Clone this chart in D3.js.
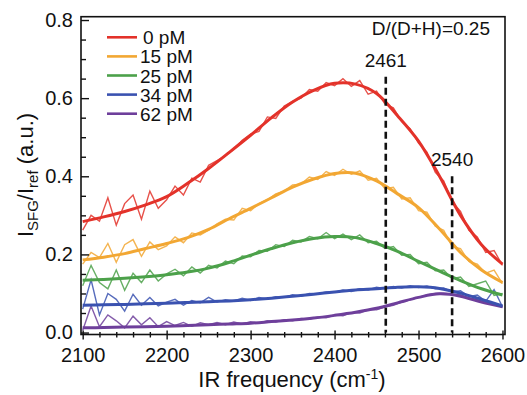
<!doctype html>
<head>
  <style>
    html, body {
      margin: 0;
      padding: 0;
      width: 527px;
      height: 395px;
      background: #fff;
    }
    svg text {
      font-family: 'Liberation Sans', Arial, sans-serif;
      fill: #111;
    }
    .noisy {
      fill: none;
      stroke-width: 1.4px;
      stroke-opacity: 0.85;
    }
    .fit {
      fill: none;
      stroke-width: 3px;
    }
  </style>
  <script src="https://d3js.org/d3.v7.min.js"></script>
</head>

<body>
  <svg id="chart" width="527" height="395"></svg>

  <script>
    // series labels and colours
    var seriesNames = ['0 pM', '15 pM', '25 pM', '34 pM', '62 pM'];
    var seriesColors = ['#e3322a', '#f2a733', '#4ca14a', '#3a52b0', '#6e3f9b'];

    // raw spectra, 2100..2600 cm-1 every 10
    var rawFreq = d3.range(2100, 2601, 10);
    var raw0 = [.262, .300, .285, .345, .275, .330, .352, .290, .362, .318, .340, .375, .352, .395, .385, .428, .440, .452, .470, .492,
                .508, .515, .552, .548, .580, .592, .600, .622, .618, .640, .632, .650, .630, .645, .610, .618, .585, .575, .540, .522,
                .485, .462, .410, .388, .335, .310, .262, .245, .205, .210, .172];
    var raw15 = [.175, .205, .192, .228, .180, .225, .238, .195, .232, .212, .222, .245, .230, .255, .250, .262, .278, .290, .288, .318,
                 .312, .330, .340, .355, .362, .378, .380, .398, .392, .412, .402, .418, .405, .414, .390, .395, .368, .372, .342, .345,
                 .312, .308, .272, .262, .220, .215, .182, .175, .152, .160, .125];
    var raw25 = [.120, .172, .128, .112, .160, .108, .152, .128, .160, .132, .150, .162, .145, .168, .152, .172, .165, .183, .176, .196,
                 .194, .210, .208, .225, .220, .236, .232, .246, .240, .256, .240, .252, .238, .250, .230, .234, .215, .220, .198, .200,
                 .176, .180, .158, .160, .138, .142, .118, .125, .132, .095, .100];
    var raw34 = [.060, .135, .045, .100, .085, .055, .098, .070, .090, .068, .078, .085, .070, .082, .076, .090, .078, .084, .081, .088,
                 .082, .090, .086, .092, .090, .097, .093, .100, .099, .104, .103, .109, .105, .112, .109, .116, .112, .118, .114, .120,
                 .115, .119, .112, .114, .104, .107, .092, .096, .080, .110, .066];
    var raw62 = [.005, .068, .015, .045, .030, .012, .042, .020, .038, .015, .028, .018, .026, .016, .025, .020, .026, .020, .027, .022,
                 .028, .024, .030, .027, .033, .030, .036, .034, .040, .038, .045, .043, .051, .050, .058, .058, .066, .070, .078, .084,
                 .090, .096, .100, .101, .098, .097, .088, .085, .076, .075, .064];

    // fitted curves, 2100..2600 every 25
    var fitFreq = d3.range(2100, 2601, 25);
    var fit0 = [.284, .296, .310, .327, .348, .382, .420, .462, .505, .550, .590, .620, .638, .636, .612, .555, .490, .400, .300, .225, .175];
    var fit15 = [.186, .193, .202, .215, .228, .243, .264, .292, .318, .345, .372, .393, .407, .408, .388, .355, .320, .265, .205, .160, .128];
    var fit25 = [.134, .136, .139, .143, .148, .155, .165, .180, .198, .215, .230, .241, .246, .243, .228, .208, .182, .157, .133, .112, .096];
    var fit34 = [.070, .071, .072, .0735, .075, .077, .079, .081, .084, .088, .093, .098, .104, .109, .112, .116, .117, .113, .101, .085, .068];
    var fit62 = [.012, .013, .014, .015, .016, .018, .020, .022, .024, .028, .032, .037, .044, .052, .062, .076, .090, .099, .093, .078, .066];

    var markers = [2461, 2540];
    var markerTop = [0.655, 0.40];

    var xMajor = [2100, 2200, 2300, 2400, 2500, 2600];
    var yMajor = [0.0, 0.2, 0.4, 0.6, 0.8];

    var rawSets = [raw0, raw15, raw25, raw34, raw62];
    var fitSets = [fit0, fit15, fit25, fit34, fit62];

    var svg = d3.select('#chart');
    var pL = 81, pR = 505, pT = 16.7, pB = 334.5;

    var x = d3.scaleLinear().domain([2098, 2603]).range([pL, pR]);
    var y = d3.scaleLinear().domain([-0.005, 0.8085]).range([pB, pT]);

    svg.append('clipPath').attr('id', 'clip')
      .append('rect')
        .attr('x', pL).attr('y', pT)
        .attr('width', pR - pL).attr('height', pB - pT);

    var plot = svg.append('g').attr('clip-path', 'url(#clip)');

    var rawLine = d3.line()
        .x(function(d, i) { return x(rawFreq[i]); })
        .y(function(d) { return y(d); });

    var fitLine = d3.line()
        .x(function(d, i) { return x(fitFreq[i]); })
        .y(function(d) { return y(d); })
        .curve(d3.curveCatmullRom);

    // draw from 62 pM up to 0 pM so red ends on top
    for (var k = seriesNames.length - 1; k >= 0; k--) {
      plot.append('path')
          .attr('class', 'noisy')
          .attr('stroke', seriesColors[k])
          .attr('d', rawLine(rawSets[k]));
    }
    for (var k = seriesNames.length - 1; k >= 0; k--) {
      plot.append('path')
          .attr('class', 'fit')
          .attr('stroke', seriesColors[k])
          .attr('d', fitLine(fitSets[k]));
    }

    // dashed markers
    svg.selectAll('line.marker')
        .data(markers)
      .enter().append('line')
        .attr('class', 'marker')
        .attr('x1', function(d) { return x(d); })
        .attr('x2', function(d) { return x(d); })
        .attr('y1', function(d, i) { return y(markerTop[i]); })
        .attr('y2', y(0.0))
        .attr('stroke', '#111')
        .attr('stroke-width', 2.6)
        .attr('stroke-dasharray', '7,4');

    svg.selectAll('text.marker')
        .data(markers)
      .enter().append('text')
        .attr('class', 'marker')
        .attr('x', function(d) { return x(d); })
        .attr('y', function(d, i) { return y(markerTop[i]) - 10; })
        .attr('text-anchor', 'middle')
        .style('font-size', '19px')
        .text(function(d) { return d; });

    svg.append('text')
        .attr('x', 490)
        .attr('y', 35)
        .attr('text-anchor', 'end')
        .style('font-size', '19px')
        .text('D/(D+H)=0.25');

    // axes
    var xAxis = svg.append('g')
        .attr('transform', 'translate(0,' + pB + ')')
        .call(d3.axisBottom(x).tickValues(xMajor).tickSize(5).tickPadding(8).tickFormat(d3.format('d')));
    xAxis.selectAll('line').attr('y1', -4);
    var xMinor = svg.append('g')
        .attr('transform', 'translate(0,' + pB + ')')
        .call(d3.axisBottom(x).tickValues(d3.range(2120, 2600, 20).filter(function(v) { return v % 100; }))
          .tickSize(3).tickFormat(''));
    xMinor.selectAll('line').attr('y1', -2.5);

    svg.append('g')
        .attr('transform', 'translate(' + pL + ',0)')
        .call(d3.axisLeft(y).tickValues(yMajor).tickSize(-8).tickPadding(8).tickFormat(d3.format('.1f')));
    svg.append('g')
        .attr('transform', 'translate(' + pL + ',0)')
        .call(d3.axisLeft(y).tickValues(d3.range(0.05, 0.8, 0.05).filter(function(v) { return Math.abs(v * 5 - Math.round(v * 5)) > 0.01; }))
          .tickSize(-5).tickFormat(''));

    svg.selectAll('.domain').remove();
    svg.selectAll('.tick line').attr('stroke', '#111').attr('stroke-width', 1.4);
    svg.selectAll('.tick text')
        .style('font-size', '20px')
        .attr('fill', '#111');

    svg.append('rect')
        .attr('x', pL).attr('y', pT)
        .attr('width', pR - pL).attr('height', pB - pT)
        .attr('fill', 'none')
        .attr('stroke', '#111')
        .attr('stroke-width', 1.6);

    // legend
    var legend = svg.append('g');
    seriesNames.forEach(function(name, i) {
      var ly = 37.3 + i * 19.1;
      legend.append('line')
          .attr('x1', 107).attr('x2', 137)
          .attr('y1', ly).attr('y2', ly)
          .attr('stroke', seriesColors[i])
          .attr('stroke-width', 2.6);
      legend.append('text')
          .attr('x', name.length > 4 ? 140 : 143)
          .attr('y', ly + 7)
          .style('font-size', '19px')
          .text(name);
    });

    // axis titles
    var xt = svg.append('text')
        .attr('x', 292)
        .attr('y', 387)
        .attr('text-anchor', 'middle')
        .style('font-size', '22px');
    xt.append('tspan').text('IR frequency (cm');
    xt.append('tspan').attr('dy', -8).style('font-size', '14px').text('-1');
    xt.append('tspan').attr('dy', 8).text(')');

    var yt = svg.append('text')
        .attr('transform', 'translate(33,175) rotate(-90)')
        .attr('text-anchor', 'middle')
        .style('font-size', '22px');
    yt.append('tspan').text('I');
    yt.append('tspan').attr('dy', 5).style('font-size', '15px').text('SFG');
    yt.append('tspan').attr('dy', -5).text('/I');
    yt.append('tspan').attr('dy', 5).style('font-size', '15px').text('ref');
    yt.append('tspan').attr('dy', -5).text(' (a.u.)');
  </script>
</body>
